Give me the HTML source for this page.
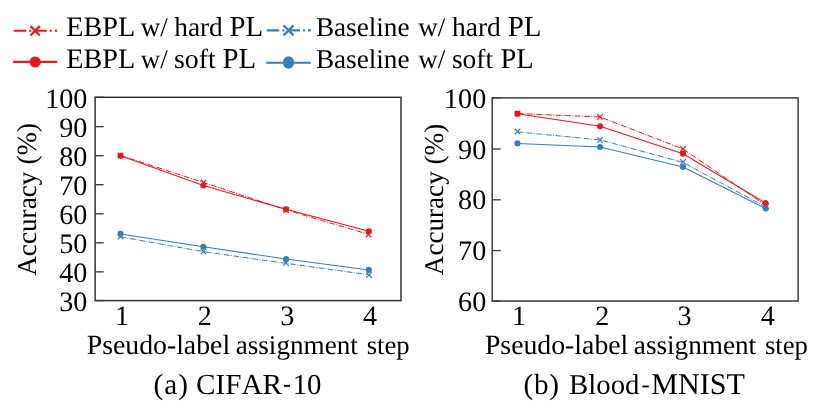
<!DOCTYPE html>
<html><head><meta charset="utf-8"><title>chart</title>
<style>
html,body{margin:0;padding:0;background:#fff;}
svg{display:block;font-family:"Liberation Serif",serif;fill:#000;will-change:transform;}
text{text-rendering:geometricPrecision;font-kerning:none;}
</style></head>
<body>
<svg width="830" height="419" viewBox="0 0 830 419">
<rect width="830" height="419" fill="#ffffff"/>
<g>
<path d="M120.50,155.50 L203.30,182.35 L286.10,209.90 L368.85,234.40" fill="none" stroke="#e41a1c" stroke-width="1.0" stroke-dasharray="5.76 1.44 0.9 1.44"/>
<path d="M117.75,152.75L123.25,158.25M117.75,158.25L123.25,152.75" stroke="#e41a1c" stroke-width="1.1" fill="none"/>
<path d="M200.75,179.75L206.25,185.25M200.75,185.25L206.25,179.75" stroke="#e41a1c" stroke-width="1.1" fill="none"/>
<path d="M283.25,207.25L288.75,212.75M283.25,212.75L288.75,207.25" stroke="#e41a1c" stroke-width="1.1" fill="none"/>
<path d="M365.75,231.75L371.25,237.25M365.75,237.25L371.25,231.75" stroke="#e41a1c" stroke-width="1.1" fill="none"/>
<path d="M120.50,236.90 L203.30,251.60 L286.10,263.40 L368.85,274.70" fill="none" stroke="#377eb8" stroke-width="1.0" stroke-dasharray="5.76 1.44 0.9 1.44"/>
<path d="M117.75,233.75L123.25,239.25M117.75,239.25L123.25,233.75" stroke="#377eb8" stroke-width="1.1" fill="none"/>
<path d="M200.75,248.75L206.25,254.25M200.75,254.25L206.25,248.75" stroke="#377eb8" stroke-width="1.1" fill="none"/>
<path d="M283.25,260.25L288.75,265.75M283.25,265.75L288.75,260.25" stroke="#377eb8" stroke-width="1.1" fill="none"/>
<path d="M366.25,272.25L371.75,277.75M366.25,277.75L371.75,272.25" stroke="#377eb8" stroke-width="1.1" fill="none"/>
<path d="M120.50,233.90 L203.30,246.80 L286.10,259.10 L368.85,269.90" fill="none" stroke="#377eb8" stroke-width="1.05"/>
<circle cx="120.50" cy="233.90" r="3.05" fill="#377eb8"/>
<circle cx="203.30" cy="246.80" r="3.05" fill="#377eb8"/>
<circle cx="286.10" cy="259.10" r="3.05" fill="#377eb8"/>
<circle cx="368.85" cy="269.90" r="3.05" fill="#377eb8"/>
<path d="M120.50,155.85 L203.30,185.55 L286.10,209.35 L368.85,231.20" fill="none" stroke="#e41a1c" stroke-width="1.05"/>
<circle cx="120.50" cy="155.85" r="3.05" fill="#e41a1c"/>
<circle cx="203.30" cy="185.55" r="3.05" fill="#e41a1c"/>
<circle cx="286.10" cy="209.35" r="3.05" fill="#e41a1c"/>
<circle cx="368.85" cy="231.20" r="3.05" fill="#e41a1c"/>
<path d="M95.13,97.30H103.63" stroke="#333333" stroke-width="1.3"/>
<path d="M95.13,126.64H103.63" stroke="#333333" stroke-width="1.3"/>
<path d="M95.13,155.69H103.63" stroke="#333333" stroke-width="1.3"/>
<path d="M95.13,184.73H103.63" stroke="#333333" stroke-width="1.3"/>
<path d="M95.13,213.77H103.63" stroke="#333333" stroke-width="1.3"/>
<path d="M95.13,242.81H103.63" stroke="#333333" stroke-width="1.3"/>
<path d="M95.13,271.86H103.63" stroke="#333333" stroke-width="1.3"/>
<path d="M95.13,300.60H103.63" stroke="#333333" stroke-width="1.3"/>
<rect x="95.13" y="97.3" width="305.87" height="203.30" fill="none" stroke="#333333" stroke-width="1.5"/>
</g>
<g>
<path d="M517.45,113.50 L600.10,117.00 L683.00,149.00 L765.60,205.30" fill="none" stroke="#e41a1c" stroke-width="1.0" stroke-dasharray="5.76 1.44 0.9 1.44"/>
<path d="M514.75,110.75L520.25,116.25M514.75,116.25L520.25,110.75" stroke="#e41a1c" stroke-width="1.1" fill="none"/>
<path d="M597.25,114.25L602.75,119.75M597.25,119.75L602.75,114.25" stroke="#e41a1c" stroke-width="1.1" fill="none"/>
<path d="M680.25,146.25L685.75,151.75M680.25,151.75L685.75,146.25" stroke="#e41a1c" stroke-width="1.1" fill="none"/>
<path d="M762.75,202.75L768.25,208.25M762.75,208.25L768.25,202.75" stroke="#e41a1c" stroke-width="1.1" fill="none"/>
<path d="M517.45,131.90 L600.10,139.90 L683.00,162.40 L765.60,206.90" fill="none" stroke="#377eb8" stroke-width="1.0" stroke-dasharray="5.76 1.44 0.9 1.44"/>
<path d="M514.75,128.75L520.25,134.25M514.75,134.25L520.25,128.75" stroke="#377eb8" stroke-width="1.1" fill="none"/>
<path d="M597.25,137.25L602.75,142.75M597.25,142.75L602.75,137.25" stroke="#377eb8" stroke-width="1.1" fill="none"/>
<path d="M680.25,159.25L685.75,164.75M680.25,164.75L685.75,159.25" stroke="#377eb8" stroke-width="1.1" fill="none"/>
<path d="M763.25,204.25L768.75,209.75M763.25,209.75L768.75,204.25" stroke="#377eb8" stroke-width="1.1" fill="none"/>
<path d="M517.45,143.40 L600.10,147.00 L683.00,167.00 L765.60,208.50" fill="none" stroke="#377eb8" stroke-width="1.05"/>
<circle cx="517.45" cy="143.40" r="3.05" fill="#377eb8"/>
<circle cx="600.10" cy="147.00" r="3.05" fill="#377eb8"/>
<circle cx="683.00" cy="167.00" r="3.05" fill="#377eb8"/>
<circle cx="765.60" cy="208.50" r="3.05" fill="#377eb8"/>
<path d="M517.45,113.85 L600.10,126.20 L683.00,153.80 L765.60,203.10" fill="none" stroke="#e41a1c" stroke-width="1.05"/>
<circle cx="517.45" cy="113.85" r="3.05" fill="#e41a1c"/>
<circle cx="600.10" cy="126.20" r="3.05" fill="#e41a1c"/>
<circle cx="683.00" cy="153.80" r="3.05" fill="#e41a1c"/>
<circle cx="765.60" cy="203.10" r="3.05" fill="#e41a1c"/>
<path d="M492.2,97.90H500.7" stroke="#3c3c3c" stroke-width="1.3"/>
<path d="M492.2,148.99H500.7" stroke="#3c3c3c" stroke-width="1.3"/>
<path d="M492.2,199.78H500.7" stroke="#3c3c3c" stroke-width="1.3"/>
<path d="M492.2,250.56H500.7" stroke="#3c3c3c" stroke-width="1.3"/>
<path d="M492.2,301.05H500.7" stroke="#3c3c3c" stroke-width="1.3"/>
<rect x="492.2" y="97.9" width="305.90" height="203.15" fill="none" stroke="#3c3c3c" stroke-width="1.5"/>
</g>
<g>
<path d="M13.7,30.8H57.2" stroke="#e41a1c" stroke-width="2.1" stroke-dasharray="12.5 3.05 2.0 3.05"/>
<path d="M30.5,26.15L39.8,35.45M30.5,35.45L39.8,26.15" stroke="#e41a1c" stroke-width="2.2" fill="none"/>
<path d="M13.1,61.9H57.2" stroke="#e41a1c" stroke-width="2.1"/>
<ellipse cx="35.15" cy="62.0" rx="5.6" ry="5.6" fill="#e41a1c"/>
<path d="M266.8,30.35H310.9" stroke="#377eb8" stroke-width="2.1" stroke-dasharray="12.5 3.05 2.0 3.05"/>
<path d="M283.54999999999995,25.35L293.54999999999995,35.35M283.54999999999995,35.35L293.54999999999995,25.35" stroke="#377eb8" stroke-width="2.2" fill="none"/>
<path d="M266.2,62.7H310.9" stroke="#377eb8" stroke-width="2.1"/>
<ellipse cx="288.54999999999995" cy="62.5" rx="5.6" ry="6.2" fill="#377eb8"/>
</g>
<g fill="#000" style="filter:grayscale(1)">
<text x="66.35" y="35.75" font-size="28.20">EBPL</text>
<text x="140.87" y="35.75" font-size="27.03">w/</text>
<text x="174.23" y="35.75" font-size="27.32">hard</text>
<text x="229.52" y="35.75" font-size="28.89">PL</text>
<text x="66.35" y="67.8" font-size="28.20">EBPL</text>
<text x="140.87" y="67.8" font-size="26.93">w/</text>
<text x="173.96" y="67.8" font-size="27.80">soft</text>
<text x="222.47" y="67.8" font-size="28.85">PL</text>
<text x="315.92" y="35.75" font-size="27.19">Baseline</text>
<text x="418.37" y="35.75" font-size="27.03">w/</text>
<text x="451.93" y="35.75" font-size="27.52">hard</text>
<text x="507.67" y="35.75" font-size="28.94">PL</text>
<text x="315.92" y="67.8" font-size="27.19">Baseline</text>
<text x="418.37" y="67.8" font-size="26.93">w/</text>
<text x="451.98" y="67.8" font-size="27.39">soft</text>
<text x="500.48" y="67.8" font-size="28.57">PL</text>
<text x="86.70" y="353.95" font-size="27.77">Pseudo-label</text>
<text x="235.64" y="353.95" font-size="27.18">assignment</text>
<text x="366.70" y="353.95" font-size="26.72">step</text>
<text x="484.90" y="353.95" font-size="27.77">Pseudo-label</text>
<text x="633.84" y="353.95" font-size="27.18">assignment</text>
<text x="764.90" y="353.95" font-size="26.72">step</text>
<text transform="translate(36.45,275.77) rotate(-90)" font-size="27.19">Accuracy</text>
<text transform="translate(36.45,164.52) rotate(-90)" font-size="27.78">(%)</text>
<text transform="translate(442.6,275.16) rotate(-90)" font-size="27.12">Accuracy</text>
<text transform="translate(442.6,164.50) rotate(-90)" font-size="27.28">(%)</text>
<text x="153.42" y="393.95" font-size="29.20" letter-spacing="1.079">(a)</text>
<text x="196.10" y="393.95" font-size="29.18">CIFAR</text>
<rect x="283.9" y="384.9" width="6.1" height="1.9"/>
<text x="292.67" y="393.95" font-size="28.83">10</text>
<text x="523.52" y="393.95" font-size="29.20" letter-spacing="0.759">(b)</text>
<text x="569.07" y="393.95" font-size="28.79">Blood</text>
<rect x="642.4" y="385.6" width="6.4" height="1.8"/>
<text x="651.23" y="393.95" font-size="30.11">MNIST</text>
<text x="87.3" y="107.80" font-size="28.1" text-anchor="end">100</text>
<text x="87.3" y="136.84" font-size="28.1" text-anchor="end">90</text>
<text x="87.3" y="165.89" font-size="28.1" text-anchor="end">80</text>
<text x="87.3" y="194.93" font-size="28.1" text-anchor="end">70</text>
<text x="87.3" y="223.97" font-size="28.1" text-anchor="end">60</text>
<text x="87.3" y="253.01" font-size="28.1" text-anchor="end">50</text>
<text x="87.3" y="282.06" font-size="28.1" text-anchor="end">40</text>
<text x="87.3" y="311.10" font-size="28.1" text-anchor="end">30</text>
<text x="486.2" y="107.60" font-size="28.1" text-anchor="end">100</text>
<text x="486.2" y="158.69" font-size="28.1" text-anchor="end">90</text>
<text x="486.2" y="209.48" font-size="28.1" text-anchor="end">80</text>
<text x="486.2" y="260.26" font-size="28.1" text-anchor="end">70</text>
<text x="486.2" y="311.05" font-size="28.1" text-anchor="end">60</text>
<text x="122.1" y="324.75" font-size="28.1" text-anchor="middle">1</text>
<text x="204.75" y="324.75" font-size="28.1" text-anchor="middle">2</text>
<text x="287.3" y="324.75" font-size="28.1" text-anchor="middle">3</text>
<text x="370.0" y="324.75" font-size="28.1" text-anchor="middle">4</text>
<text x="519.0" y="324.75" font-size="28.1" text-anchor="middle">1</text>
<text x="602.2" y="324.75" font-size="28.1" text-anchor="middle">2</text>
<text x="684.5" y="324.75" font-size="28.1" text-anchor="middle">3</text>
<text x="767.75" y="324.75" font-size="28.1" text-anchor="middle">4</text>
</g>
</svg>
</body></html>
